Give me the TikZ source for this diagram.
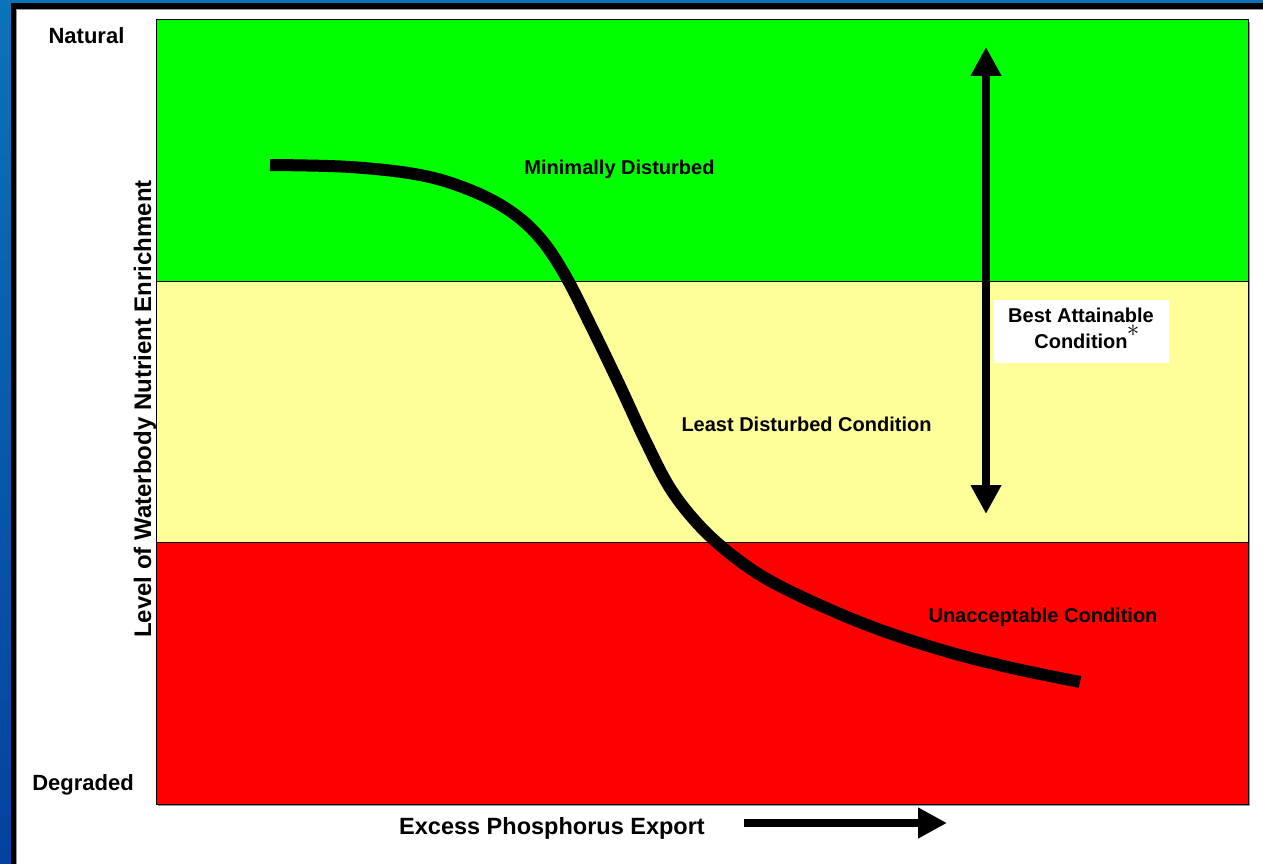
\documentclass[tikz,border=0pt]{standalone}
\usepackage{fontspec}
\setmainfont{Liberation Sans}
\usetikzlibrary{arrows.meta}
\definecolor{bandgreen}{RGB}{0,255,0}
\definecolor{bandyellow}{RGB}{255,255,153}
\definecolor{bandred}{RGB}{255,0,0}
\definecolor{blueA}{RGB}{10,115,185}
\definecolor{blueB}{RGB}{5,65,160}
\definecolor{shadowgray}{RGB}{150,150,150}
\begin{document}
\begin{tikzpicture}[x=1pt,y=-1pt,
  lbl/.style={font=\bfseries\fontsize{20}{24}\selectfont, inner sep=0pt, anchor=base},
  biglbl/.style={font=\bfseries\fontsize{22}{26}\selectfont, inner sep=0pt, anchor=base},
  band/.style={draw=black, line width=1pt},
  curveline/.style={line width=12pt, line cap=butt, line join=round},
  bigarrow/.style={line width=8pt, line cap=butt}
]
\useasboundingbox (0,0) rectangle (1263,864);
% frame
\fill[white] (0,0) rectangle (1263,864);
\shade[top color=blueA, bottom color=blueB] (0,0) rectangle (11,864);
\fill[blueA] (0,0) rectangle (1263,3);
\fill[black] (11,3) rectangle (1263,9);
\fill[black] (11,3) rectangle (16,864);
\fill[shadowgray] (16,9) rectangle (1263,10);
\fill[shadowgray] (16,9) rectangle (17,864);
% bands
\fill[shadowgray] (158,22) rectangle (1250,806);
\filldraw[band, fill=bandgreen] (156,20) rectangle (1248,281);
\filldraw[band, fill=bandyellow] (156,281) rectangle (1248,542);
\filldraw[band, fill=bandred] (156,542) rectangle (1248,804);
% axis labels
\node[biglbl] (natural) at (86.5,43.3) {Natural};
\node[biglbl] (degraded) at (83,790.7) {Degraded};
\node[biglbl, rotate=90, font=\bfseries\fontsize{24}{28}\selectfont] (ylabel) at (151,409) {Level of Waterbody Nutrient Enrichment};
\node[biglbl, font=\bfseries\fontsize{23.5}{28}\selectfont] (xlabel) at (552,834) {Excess Phosphorus Export};
% band labels
\node[lbl] (minimal) at (619.5,175) {Minimally Disturbed};
\node[lbl] (least) at (806.5,431.7) {Least Disturbed Condition};
\node[lbl] (unacc) at (1043,622) {Unacceptable Condition};
% curve
\draw[curveline] plot[smooth, tension=0.6] coordinates {
  (270,165) (350,167) (420,175) (470,190) (510,211) (540,238) (565,275)
  (592,328) (620,386) (646,442) (670,488) (697,523) (728,552) (765,578)
  (815,603) (875,628) (945,651) (1012,668) (1080,682)};
% best attainable arrow
\coordinate (bacTop) at (986,47);
\coordinate (bacBot) at (986,514);
\draw[bigarrow, {Triangle[width=29pt,length=29pt]}-{Triangle[width=29pt,length=29pt]}] (bacTop) -- (bacBot);
\fill[white] (994,300) rectangle (1169,363);
\node[lbl] (bestA) at (1081,322) {Best Attainable};
\node[lbl] (bestB) at (1081,348) {Condition};
\node[inner sep=0pt, font=\fontsize{34}{36}\selectfont] (star) at (1133,331) {$\ast$};
% x arrow
\coordinate (xaS) at (744,823);
\coordinate (xaE) at (947,823);
\draw[line width=7.5pt, line cap=butt, -{Triangle[width=29pt,length=29pt]}] (xaS) -- (xaE);
\end{tikzpicture}
\end{document}
